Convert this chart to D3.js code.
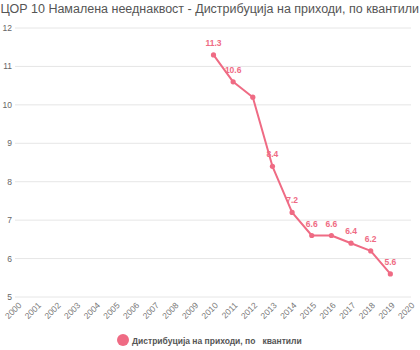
<!DOCTYPE html>
<html>
<head>
<meta charset="utf-8">
<script src="https://cdn.jsdelivr.net/npm/d3@7"></script>
<style>
  html, body { margin: 0; padding: 0; background: #fff; }
  svg { display: block; font-family: "Liberation Sans", Arial, sans-serif; }
</style>
</head>
<body>
<svg id="chart" width="420" height="350"></svg>
<script>
// Income distribution indicator, by year
const years = [2010, 2011, 2012, 2013, 2014, 2015, 2016, 2017, 2018, 2019];
const values = [11.3, 10.6, 10.2, 8.4, 7.2, 6.6, 6.6, 6.4, 6.2, 5.6];
const labelled = [11.3, 10.6, null, 8.4, 7.2, 6.6, 6.6, 6.4, 6.2, 5.6];
const xTicks = d3.range(2000, 2021);
const yTicks = [5, 6, 7, 8, 9, 10, 11, 12];
const title = "ЦОР 10 Намалена нееднаквост - Дистрибуција на приходи, по квантили";
const seriesName = "Дистрибуција на приходи, по   квантили";

const color = "#ef6b84";
const svg = d3.select("#chart");

const x = d3.scaleLinear().domain([2000, 2020]).range([17, 410]);
const y = d3.scaleLinear().domain([5, 12]).range([297, 28]);

svg.append("text")
  .attr("x", 0.5).attr("y", 13)
  .attr("font-size", 12.5)
  .attr("fill", "#555")
  .text(title);

// horizontal grid
svg.append("g").selectAll("line").data(yTicks).join("line")
  .attr("x1", 15).attr("x2", 411)
  .attr("y1", d => y(d)).attr("y2", d => y(d))
  .attr("stroke", "#e6e6e6").attr("stroke-width", 1);

svg.append("g").selectAll("text").data(yTicks).join("text")
  .attr("x", 12).attr("y", d => y(d) + 3)
  .attr("text-anchor", "end")
  .attr("font-size", 8.5)
  .attr("fill", "#666")
  .text(d => d);

svg.append("g").selectAll("text").data(xTicks).join("text")
  .attr("transform", d => `translate(${x(d) + 5},${306}) rotate(-45)`)
  .attr("text-anchor", "end")
  .attr("font-size", 8.5)
  .attr("fill", "#777")
  .text(d => d);

const pts = years.map((yr, i) => ({ yr, v: values[i], lab: labelled[i] }));

svg.append("path")
  .datum(pts)
  .attr("fill", "none")
  .attr("stroke", color)
  .attr("stroke-width", 2)
  .attr("stroke-linejoin", "round")
  .attr("d", d3.line().x(d => x(d.yr)).y(d => y(d.v)));

svg.append("g").selectAll("circle").data(pts).join("circle")
  .attr("cx", d => x(d.yr)).attr("cy", d => y(d.v))
  .attr("r", 2.6).attr("fill", color);

svg.append("g").selectAll("text").data(pts.filter(d => d.lab !== null)).join("text")
  .attr("x", d => x(d.yr)).attr("y", d => y(d.v) - 9)
  .attr("text-anchor", "middle")
  .attr("font-size", 8.5)
  .attr("font-weight", "bold")
  .attr("fill", color)
  .text(d => d.lab.toFixed(1));

// legend
svg.append("circle").attr("cx", 123).attr("cy", 340).attr("r", 6).attr("fill", color);
svg.append("text")
  .attr("x", 132).attr("y", 343.5)
  .attr("font-size", 8.5)
  .attr("font-weight", "bold")
  .attr("fill", "#555")
  .style("white-space", "pre")
  .text(seriesName);
</script>
</body>
</html>
